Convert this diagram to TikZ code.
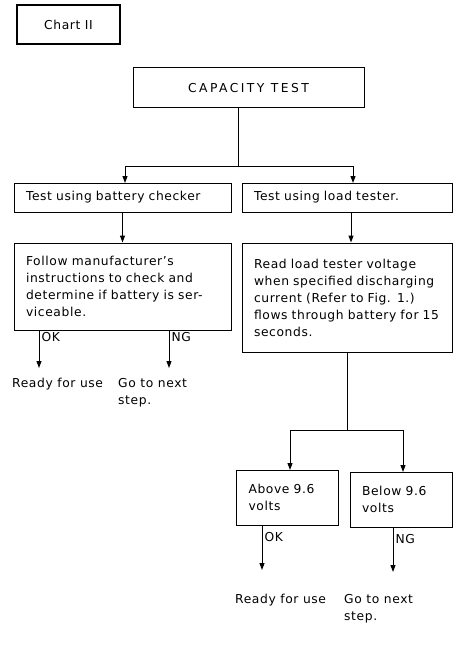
\documentclass[tikz,border=0pt]{standalone}
\usepackage{fontspec}
\setmainfont{DejaVu Sans}[LetterSpace=5]
\usetikzlibrary{arrows.meta,calc}
\newcommand\oneline[1]{\mbox{#1}}
\begin{document}
\begin{tikzpicture}[x=1pt,y=-1pt,
  box/.style={draw,line width=1pt,rectangle,inner sep=0pt},
  txt/.style={font=\fontsize{12.3}{17}\selectfont},
  arr/.style={line width=1pt,-{Triangle[length=7pt,width=5pt]}},
  ln/.style={line width=1pt}]
\useasboundingbox (0,0) rectangle (456,647);
\node[box,line width=1.4pt,minimum width=103pt,minimum height=39pt,txt] (chart) at (68.5,24.5) {Chart II};
\node[box,minimum width=231pt,minimum height=40pt,txt] (cap) at (248.5,88) {\addfontfeatures{LetterSpace=20}CAPACITY TEST};
\node[box,minimum width=217pt,minimum height=29pt,txt,text width=193pt,align=left] (A) at (122.5,197.5) {\oneline{Test using battery checker}};
\node[box,minimum width=210pt,minimum height=29pt,txt,text width=186pt,align=left] (B) at (347,197.5) {\oneline{Test using load tester.}};
\node[box,minimum width=217pt,minimum height=87pt,txt,text width=193pt,align=left] (C) at (122.5,286.5) {\oneline{Follow manufacturer's}\\\oneline{instructions to check and}\\\oneline{determine if battery is ser-}\\\oneline{viceable.}};
\node[box,minimum width=210pt,minimum height=109pt,txt,text width=186pt,align=left] (D) at (347,297.5) {\oneline{Read load tester voltage}\\\oneline{when specified discharging}\\\oneline{current (Refer to Fig. 1.)}\\\oneline{flows through battery for 15}\\\oneline{seconds.}};
\node[box,minimum width=102pt,minimum height=55pt,txt,text width=78pt,align=left] (E) at (287.5,497.5) {\oneline{Above 9.6}\\\oneline{volts}};
\node[box,minimum width=102pt,minimum height=55pt,txt,text width=78pt,align=left] (F) at (401,499.5) {\oneline{Below 9.6}\\\oneline{volts}};
% outcomes
\node[txt,anchor=north west,inner sep=0pt] (r1) at (12,378) {Ready for use};
\node[txt,anchor=north west,inner sep=0pt,align=left] (g1) at (118,378) {Go to next\\step.};
\node[txt,anchor=north west,inner sep=0pt] (r2) at (235,594) {Ready for use};
\node[txt,anchor=north west,inner sep=0pt,align=left] (g2) at (344,594) {Go to next\\step.};
% coordinates
\coordinate (j1) at (238,167);
\coordinate (aL) at (125,183);
\coordinate (aR) at (353,183);
\coordinate (bd) at (351,0);
\coordinate (j2) at (347,430);
\coordinate (eL) at (290,470);
\coordinate (fR) at (403,472);
\coordinate (ok1) at (39,368);
\coordinate (ng1) at (169,368);
\coordinate (ok2) at (262,570);
\coordinate (ng2) at (393,572);
% connectors
\draw[ln] (cap.south -| j1) -- (j1);
\draw[arr] (j1) -| (aL);
\draw[arr] (j1) -| (aR);
\draw[arr] (A.south) -- (A.south |- C.north);
\draw[arr] (B.south -| bd) -- (D.north -| bd);
\draw[ln] (D.south -| j2) -- (j2);
\draw[arr] (j2) -| (eL);
\draw[arr] (j2) -| (fR);
\draw[arr] (C.south -| ok1) -- node[pos=0.17,right,inner sep=2pt,txt]{OK} (ok1);
\draw[arr] (C.south -| ng1) -- node[pos=0.17,right,inner sep=2pt,txt]{NG} (ng1);
\draw[arr] (E.south -| ok2) -- node[pos=0.27,right,inner sep=2pt,txt]{OK} (ok2);
\draw[arr] (F.south -| ng2) -- node[pos=0.27,right,inner sep=2pt,txt]{NG} (ng2);
\end{tikzpicture}
\end{document}
